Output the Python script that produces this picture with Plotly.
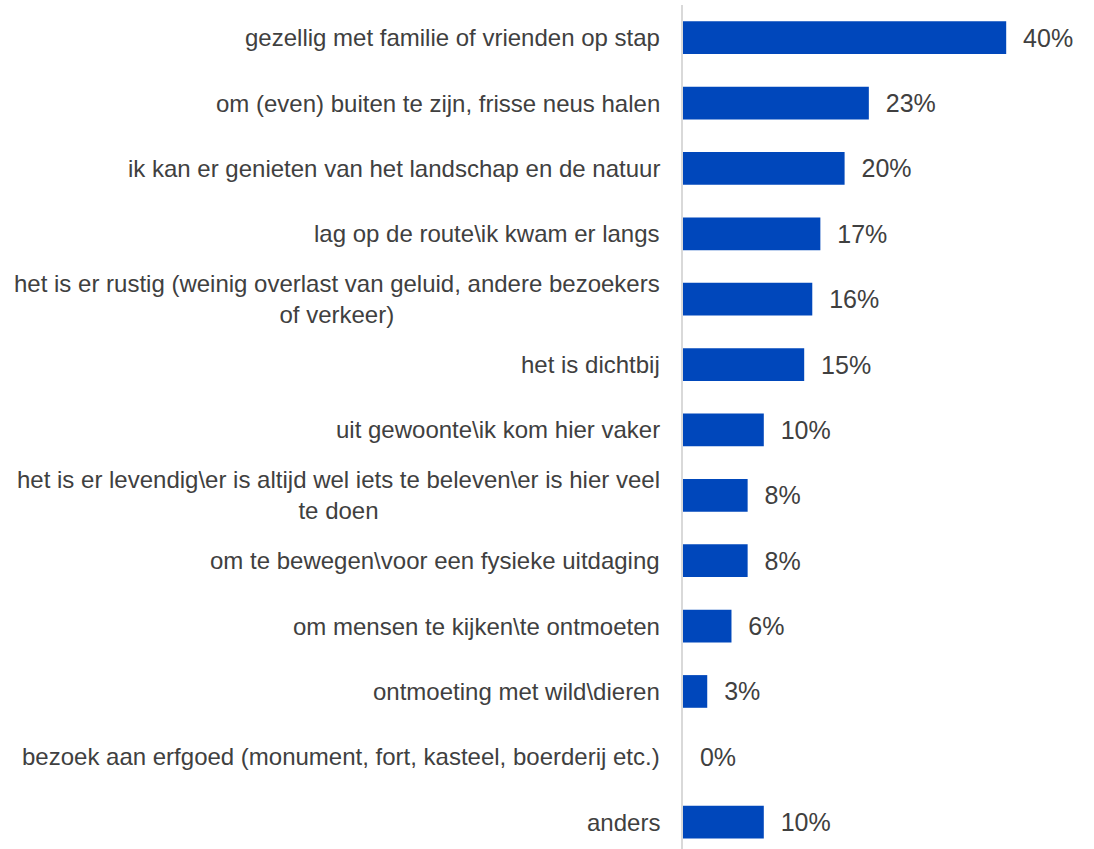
import plotly.graph_objects as go

# Redenen voor bezoek (aandeel respondenten, %)
categories = [
    "gezellig met familie of vrienden op stap",
    "om (even) buiten te zijn, frisse neus halen",
    "ik kan er genieten van het landschap en de natuur",
    "lag op de route\\ik kwam er langs",
    "het is er rustig (weinig overlast van geluid, andere bezoekers<br>of verkeer)",
    "het is dichtbij",
    "uit gewoonte\\ik kom hier vaker",
    "het is er levendig\\er is altijd wel iets te beleven\\er is hier veel<br>te doen",
    "om te bewegen\\voor een fysieke uitdaging",
    "om mensen te kijken\\te ontmoeten",
    "ontmoeting met wild\\dieren",
    "bezoek aan erfgoed (monument, fort, kasteel, boerderij etc.)",
    "anders",
]
values = [40, 23, 20, 17, 16, 15, 10, 8, 8, 6, 3, 0, 10]

TEXT = "#404040"
BLUE = "#0047BB"
FONT = "Arial, Liberation Sans, sans-serif"

fig = go.Figure(
    go.Bar(
        x=values,
        y=categories,
        orientation="h",
        width=0.5,
        marker=dict(color=BLUE, line=dict(width=0)),
        text=[f"  {v}%" for v in values],
        textposition="outside",
        textfont=dict(size=25, color=TEXT, family=FONT),
        cliponaxis=False,
        constraintext="none",
        hoverinfo="skip",
    )
)

# category labels as annotations so wrapped lines are centred
for cat in categories:
    fig.add_annotation(
        x=0,
        y=cat,
        xref="x",
        yref="y",
        text=cat,
        showarrow=False,
        xanchor="right",
        align="center",
        xshift=-21,
        font=dict(size=24, color=TEXT, family=FONT),
    )

fig.update_layout(
    width=1094,
    height=849,
    paper_bgcolor="white",
    plot_bgcolor="white",
    margin=dict(l=683, r=7, t=5, b=0),
    showlegend=False,
    font=dict(family=FONT, color=TEXT),
    xaxis=dict(
        range=[0, 50],
        showgrid=False,
        zeroline=False,
        showticklabels=False,
        showline=False,
    ),
    yaxis=dict(
        type="category",
        categoryorder="array",
        categoryarray=categories,
        range=[12.41, -0.5],
        showticklabels=False,
        showgrid=False,
        zeroline=False,
        showline=True,
        linecolor="#d9d9d9",
        linewidth=2,
        ticks="",
    ),
)

fig.write_html(
    "out.html",
    config={"displayModeBar": False},
    post_script="document.body.style.margin='0';",
)
